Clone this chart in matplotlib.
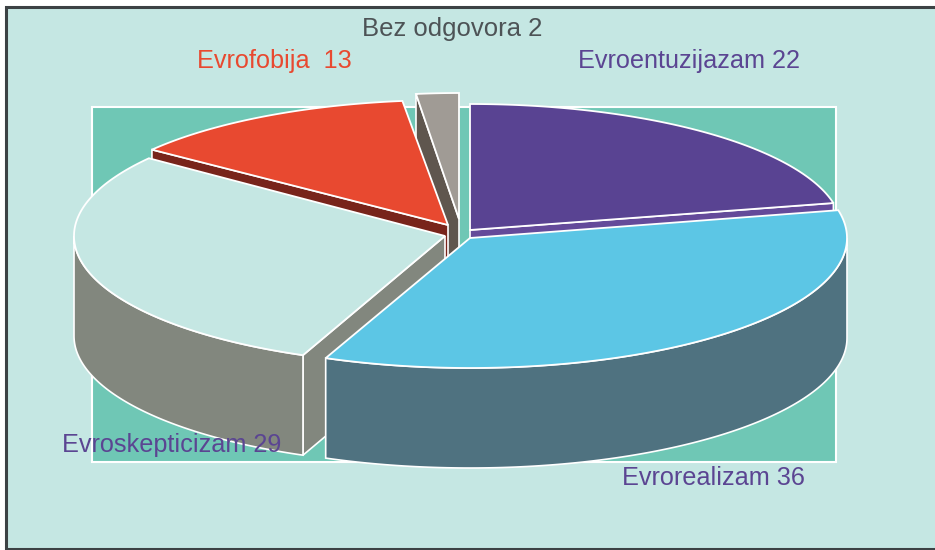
import numpy as np
import matplotlib
matplotlib.use("Agg")
import matplotlib.pyplot as plt
from matplotlib.patches import Polygon, Rectangle

labels = ["Evroentuzijazam", "Evrorealizam", "Evroskepticizam", "Evrofobija ", "Bez odgovora"]
values = [22, 36, 29, 13, 2]

# look of each slice, same order as values
top_colors = ["#594392", "#5cc6e5", "#c5e7e3", "#e84930", "#a09b95"]
wall_colors = ["#644a9a", "#4f7280", "#82877e", "#78241b", "#5f564e"]
text_colors = ["#5b4592", "#5b4592", "#5b4592", "#e84930", "#4d5356"]
apex_x = [470, 470, 445, 448, 459]
apex_y = [230, 238, 236, 225, 219]
radius_x = [372, 377, 371, 371, 350]
radius_y = [126, 130, 129, 125, 126]
text_x = [578, 622, 62, 197, 362]
text_y = [68, 485, 452, 68, 36]
text_size = [18.2, 18.2, 18.2, 18.2, 18.5]

# the original's edge between realizam and skepticizam sits a bit before the rounded share
edge_nudge = [0, 0, -2.2, 0, 0, 0]
depth = 100
draw_order = [0, 4, 3, 2, 1]

edges = np.concatenate([[0], np.cumsum(values)]) / np.sum(values) * 360 + edge_nudge


def rim_point(i, deg):
    rad = np.radians(deg)
    return apex_x[i] + radius_x[i] * np.sin(rad), apex_y[i] - radius_y[i] * np.cos(rad)


def extruded(points):
    points = np.array(points)
    return np.vstack([points, (points + [0, depth])[::-1]])


fig = plt.figure(figsize=(9.35, 5.5), dpi=100, facecolor="white")
ax = fig.add_axes([0, 0, 1, 1])
ax.set_xlim(0, 935)
ax.set_ylim(550, 0)
ax.axis("off")

# panel and plot area
ax.add_patch(Rectangle((6, 7), 940, 542, facecolor="#c5e7e3", edgecolor="#3c4244", linewidth=2.2))
ax.add_patch(Rectangle((92, 107), 744, 355, facecolor="#6fc7b5", edgecolor="white", linewidth=1.5))

for i in draw_order:
    start, end = edges[i], edges[i + 1]
    apex = (apex_x[i], apex_y[i])

    # side faces that look towards the viewer
    if end <= 180:
        face = extruded([apex, rim_point(i, end)])
        ax.add_patch(Polygon(face, facecolor=wall_colors[i], edgecolor="white", linewidth=1.2))
    if start >= 180:
        face = extruded([apex, rim_point(i, start)])
        ax.add_patch(Polygon(face, facecolor=wall_colors[i], edgecolor="white", linewidth=1.2))

    # outer wall, front half only
    low, high = max(start, 90), min(end, 270)
    if high > low:
        arc = [rim_point(i, d) for d in np.linspace(low, high, 120)]
        ax.add_patch(Polygon(extruded(arc), facecolor=wall_colors[i], edgecolor="white", linewidth=1.2))

    # top
    arc = [rim_point(i, d) for d in np.linspace(start, end, 160)]
    ax.add_patch(Polygon([apex] + arc, facecolor=top_colors[i], edgecolor="white", linewidth=1.3))

for i in range(len(values)):
    ax.text(text_x[i], text_y[i], f"{labels[i]} {values[i]}", color=text_colors[i],
            family="Liberation Sans", fontsize=text_size[i], ha="left", va="baseline")

fig.savefig("out.png", dpi=100)
